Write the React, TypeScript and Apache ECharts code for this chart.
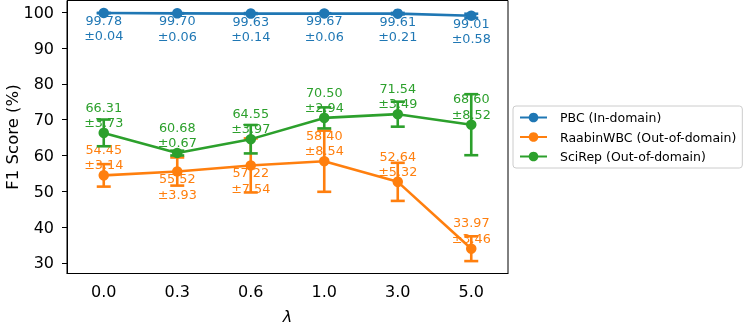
import React, { useEffect, useRef } from "react";
import * as echarts from "echarts";

const categories = ["0.0", "0.3", "0.6", "1.0", "3.0", "5.0"];
const pbcMean = [99.78, 99.7, 99.63, 99.67, 99.61, 99.01];
const pbcStd = [0.04, 0.06, 0.14, 0.06, 0.21, 0.58];
const raabinMean = [54.45, 55.52, 57.22, 58.4, 52.64, 33.97];
const raabinStd = [3.14, 3.93, 7.54, 8.54, 5.32, 3.46];
const scirepMean = [66.31, 60.68, 64.55, 70.5, 71.54, 68.6];
const scirepStd = [3.73, 0.67, 3.97, 2.94, 3.49, 8.52];
const yTicks = [30, 40, 50, 60, 70, 80, 90, 100];

const seriesNames = ["PBC (In-domain)", "RaabinWBC (Out-of-domain)", "SciRep (Out-of-domain)"];
const pbcLabelPos = ["bottom", "bottom", "bottom", "bottom", "bottom", "bottom"];
const raabinLabelPos = ["top", "bottom", "bottom", "top", "top", "top"];
const scirepLabelPos = ["top", "top", "top", "top", "top", "top"];
const yAxisTitle = "F1 Score (%)";
const xAxisTitle = "λ";

const FONT = "DejaVu Sans";

export default function App() {
  const ref = useRef<HTMLDivElement>(null);
  useEffect(() => {
    if (!ref.current) return;
    const chart = echarts.init(ref.current, undefined, { renderer: "svg" });

    const all = [
      { mean: pbcMean, std: pbcStd, pos: pbcLabelPos, color: "#1f77b4" },
      { mean: raabinMean, std: raabinStd, pos: raabinLabelPos, color: "#ff7f0e" },
      { mean: scirepMean, std: scirepStd, pos: scirepLabelPos, color: "#2ca02c" },
    ];
    let lo = Infinity;
    let hi = -Infinity;
    all.forEach((s) =>
      s.mean.forEach((m, i) => {
        lo = Math.min(lo, m - s.std[i]);
        hi = Math.max(hi, m + s.std[i]);
      })
    );
    const span = hi - lo;
    const yMin = lo - span * 0.05;
    const yMax = hi + span * 0.05;

    const series: any[] = [];
    all.forEach((s, k) => {
      series.push({
        type: "custom",
        z: 2 + k * 2,
        data: s.mean.map((m, i) => [i, m - s.std[i], m + s.std[i]]),
        encode: { x: 0, y: [1, 2] },
        renderItem: (params: any, api: any) => {
          const x = api.value(0);
          const a = api.coord([x, api.value(1)]);
          const b = api.coord([x, api.value(2)]);
          const cap = 7;
          const st = { stroke: s.color, lineWidth: 2.6 };
          return {
            type: "group",
            children: [
              { type: "line", shape: { x1: a[0], y1: a[1], x2: b[0], y2: b[1] }, style: st },
              { type: "line", shape: { x1: a[0] - cap, y1: a[1], x2: a[0] + cap, y2: a[1] }, style: st },
              { type: "line", shape: { x1: b[0] - cap, y1: b[1], x2: b[0] + cap, y2: b[1] }, style: st },
            ],
          };
        },
      });
      series.push({
        type: "line",
        name: seriesNames[k],
        z: 3 + k * 2,
        symbol: "circle",
        symbolSize: 10.5,
        color: s.color,
        lineStyle: { width: 2.6, color: s.color },
        itemStyle: { color: s.color },
        data: s.mean.map((m, i) => ({
          value: m,
          label: { position: s.pos[i], distance: s.pos[i] === "top" ? -2.5 : -5.5 },
        })),
        label: {
          show: true,
          fontFamily: FONT,
          fontSize: 12.8,
          lineHeight: 15.4,
          color: s.color,
          align: "center",
          formatter: (p: any) =>
            `${s.mean[p.dataIndex].toFixed(2)}\n±${s.std[p.dataIndex].toFixed(2)}`,
        },
      });
    });

    chart.setOption({
      animation: false,
      grid: {
        left: 67,
        right: 240,
        top: 0.5,
        bottom: 51.5,
        outerBoundsMode: "none",
        containLabel: false,
        show: true,
        borderColor: "#000",
        borderWidth: 1,
        backgroundColor: "transparent",
      },
      graphic: [
        {
          type: "text",
          x: 12,
          y: 137,
          rotation: Math.PI / 2,
          style: {
            text: yAxisTitle,
            fontFamily: FONT,
            fontSize: 16.5,
            fill: "#000",
            align: "center",
            verticalAlign: "middle",
          },
        },
      ],
      legend: {
        data: seriesNames,
        orient: "vertical",
        left: 513,
        top: 106,
        itemWidth: 27,
        itemHeight: 12,
        itemGap: 6.5,
        padding: [5, 6, 5, 6],
        borderColor: "#cccccc",
        borderWidth: 1,
        borderRadius: 3,
        backgroundColor: "#fff",
        textStyle: {
          fontFamily: FONT,
          fontSize: 12.5,
          color: "#000",
          padding: [0, 0, 0, 8],
        },
      },
      xAxis: {
        type: "category",
        data: categories,
        boundaryGap: true,
        name: xAxisTitle,
        nameLocation: "middle",
        nameGap: 35,
        nameTextStyle: { fontFamily: FONT, fontSize: 16, fontStyle: "italic", color: "#000" },
        axisLine: { lineStyle: { color: "#000", width: 1 } },
        axisTick: { alignWithLabel: true, length: 5, lineStyle: { color: "#000" } },
        axisLabel: { fontFamily: FONT, fontSize: 16, color: "#000", margin: 10 },
        splitLine: { show: false },
      },
      yAxis: {
        type: "value",
        min: yMin,
        max: yMax,
        axisLine: { show: true, lineStyle: { color: "#000", width: 1 } },
        axisTick: { show: true, length: 5, lineStyle: { color: "#000" }, customValues: yTicks },
        axisLabel: { fontFamily: FONT, fontSize: 16, color: "#000", margin: 13, customValues: yTicks },
        splitLine: { show: false },
      },
      series,
    });
    return () => chart.dispose();
  }, []);

  return (
    <div
      ref={ref}
      style={{ position: "fixed", left: 0, top: 0, width: 748, height: 325 }}
    />
  );
}
